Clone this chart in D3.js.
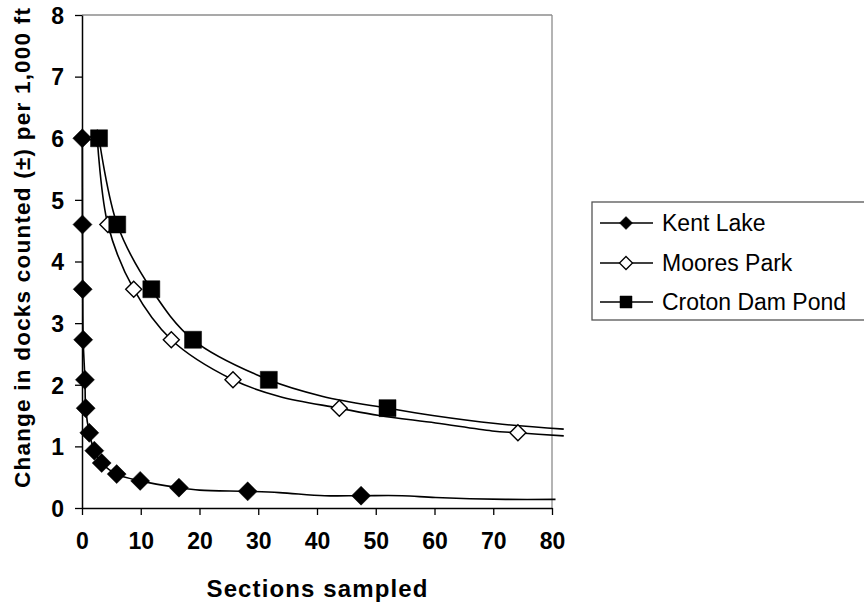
<!DOCTYPE html>
<html>
<head>
<meta charset="utf-8">
<script src="https://cdn.jsdelivr.net/npm/d3@7"></script>
<style>
body { margin: 0; background: #fff; }
svg { display: block; font-family: "Liberation Sans", Arial, sans-serif; }
</style>
</head>
<body>
<div id="chart"></div>
<script>

// marker points per series
var kentX = [0.05, 0.08, 0.12, 0.2, 0.5, 0.63, 1.24, 2.1, 3.35, 5.9, 9.9, 16.5, 28.2, 47.5];
var kentY = [6, 4.6, 3.55, 2.73, 2.08, 1.62, 1.22, 0.93, 0.73, 0.55, 0.44, 0.33, 0.27, 0.2];
var mooresX = [2.6, 4.4, 8.8, 15.2, 25.7, 43.8, 74.2];
var mooresY = [6, 4.6, 3.55, 2.73, 2.08, 1.62, 1.22];
var crotonX = [2.9, 6.0, 11.8, 18.9, 31.8, 52.0];
var crotonY = [6, 4.6, 3.55, 2.73, 2.08, 1.62];

// smoothed lines (more points than markers)
var kentLineX = [0.05, 0.08, 0.12, 0.2, 0.5, 0.63, 1.24, 2.1, 3.35, 5.9, 9.9, 16.5, 20, 28.2, 33.6, 41.3, 47.5, 54.5, 60.2, 72.1, 80.6];
var kentLineY = [6, 4.6, 3.55, 2.73, 2.08, 1.62, 1.22, 0.93, 0.73, 0.55, 0.44, 0.33, 0.29, 0.27, 0.25, 0.2, 0.2, 0.2, 0.17, 0.14, 0.14];
var mooresLineX = [2.6, 4.4, 8.8, 15.2, 25.7, 33.6, 43.8, 50.6, 60.2, 69.8, 74.2, 82];
var mooresLineY = [6, 4.6, 3.55, 2.73, 2.08, 1.81, 1.62, 1.5, 1.38, 1.25, 1.22, 1.17];
var crotonLineX = [2.9, 6.0, 11.8, 18.9, 31.8, 41.0, 52.0, 59.7, 70.4, 82];
var crotonLineY = [6, 4.6, 3.55, 2.73, 2.08, 1.81, 1.62, 1.5, 1.37, 1.28];

var seriesNames = ["Kent Lake", "Moores Park", "Croton Dam Pond"];
var xTicks = [0, 10, 20, 30, 40, 50, 60, 70, 80];
var yTicks = [0, 1, 2, 3, 4, 5, 6, 7, 8];

var width = 864, height = 607;
var margin = {top: 15, left: 82, right: 312, bottom: 99};

var x = d3.scaleLinear().domain([0, 80]).range([margin.left, width - margin.right]);
var y = d3.scaleLinear().domain([0, 8]).range([height - margin.bottom, margin.top]);

var svg = d3.select("#chart").append("svg")
	.attr("width", width)
	.attr("height", height);

function zip(xs, ys) {
	return xs.map(function(d, i) { return [d, ys[i]]; });
}

var series = [
	{name: seriesNames[0], pts: zip(kentX, kentY), line: zip(kentLineX, kentLineY), shape: "diamond", fill: "#000"},
	{name: seriesNames[1], pts: zip(mooresX, mooresY), line: zip(mooresLineX, mooresLineY), shape: "diamond", fill: "#fff"},
	{name: seriesNames[2], pts: zip(crotonX, crotonY), line: zip(crotonLineX, crotonLineY), shape: "square", fill: "#000"}
];

// plot frame: grey top / right
svg.append("line")
	.attr("x1", x(0)).attr("x2", x(80))
	.attr("y1", y(8)).attr("y2", y(8))
	.attr("stroke", "#8c8c8c").attr("stroke-width", 1.3);
svg.append("line")
	.attr("x1", x(80)).attr("x2", x(80))
	.attr("y1", y(8)).attr("y2", y(0))
	.attr("stroke", "#8c8c8c").attr("stroke-width", 1.3);

// axes
var yAxis = svg.append("g")
	.attr("transform", "translate(" + x(0) + ",0)")
	.call(d3.axisLeft(y).tickValues(yTicks).tickSize(7).tickPadding(11).tickSizeOuter(0));
var xAxis = svg.append("g")
	.attr("transform", "translate(0," + y(0) + ")")
	.call(d3.axisBottom(x).tickValues(xTicks).tickSize(7).tickPadding(22).tickSizeOuter(0));

[xAxis, yAxis].forEach(function(a) {
	a.select(".domain").attr("stroke", "#000").attr("stroke-width", 1.5);
	a.selectAll(".tick line").attr("stroke", "#000").attr("stroke-width", 1.3);
	a.selectAll(".tick text")
		.attr("fill", "#000")
		.style("font-family", "'Liberation Sans', Arial, sans-serif")
		.style("font-size", "23px")
		.style("font-weight", "bold");
});
yAxis.selectAll(".tick text").attr("dy", "0.36em");
xAxis.selectAll(".tick text").attr("dy", "0.5em");

// lines
var lineGen = d3.line()
	.x(function(d) { return x(d[0]); })
	.y(function(d) { return y(d[1]); })
	.curve(d3.curveCatmullRom.alpha(0.5));

svg.append("g").attr("class", "lines")
	.selectAll("path")
	.data(series)
	.enter().append("path")
	.attr("d", function(d) { return lineGen(d.line); })
	.attr("fill", "none")
	.attr("stroke", "#000")
	.attr("stroke-width", 1.6);

function markerPath(shape, r) {
	if (shape == "square") {
		return "M" + (-r) + "," + (-r) + "H" + r + "V" + r + "H" + (-r) + "Z";
	}
	return "M0," + (-r) + "L" + r + ",0L0," + r + "L" + (-r) + ",0Z";
}

series.forEach(function(s) {
	svg.append("g").attr("class", "markers")
		.selectAll("path")
		.data(s.pts)
		.enter().append("path")
		.attr("transform", function(d) { return "translate(" + x(d[0]) + "," + y(d[1]) + ")"; })
		.attr("d", markerPath(s.shape, s.shape == "square" ? 8.5 : (s.fill == "#fff" ? 8 : 9.5)))
		.attr("fill", s.fill)
		.attr("stroke", "#000")
		.attr("stroke-width", s.fill == "#fff" ? 1.4 : 0.5);
});

// axis titles
svg.append("text")
	.attr("x", (x(0) + x(80)) / 2)
	.attr("y", 597)
	.attr("text-anchor", "middle")
	.attr("textLength", 221)
	.attr("lengthAdjust", "spacing")
	.style("font-size", "24px")
	.style("font-weight", "bold")
	.text("Sections sampled");

svg.append("text")
	.attr("transform", "translate(30,248) rotate(-90)")
	.attr("text-anchor", "middle")
	.attr("textLength", 480)
	.attr("lengthAdjust", "spacing")
	.style("font-size", "22.5px")
	.style("font-weight", "bold")
	.text("Change in docks counted (\u00b1) per 1,000 ft");

// legend
var legend = svg.append("g").attr("class", "legend");
legend.append("rect")
	.attr("x", 592).attr("y", 202)
	.attr("width", 300).attr("height", 118)
	.attr("fill", "#fff")
	.attr("stroke", "#555")
	.attr("stroke-width", 1.3);

var rowY = [223, 263, 302];
series.forEach(function(s, i) {
	var g = legend.append("g").attr("transform", "translate(0," + rowY[i] + ")");
	g.append("line")
		.attr("x1", 600).attr("x2", 653)
		.attr("stroke", "#000").attr("stroke-width", 1.6);
	g.append("path")
		.attr("transform", "translate(626,0)")
		.attr("d", markerPath(s.shape, s.shape == "square" ? 6 : 6.5))
		.attr("fill", s.fill)
		.attr("stroke", "#000")
		.attr("stroke-width", s.fill == "#fff" ? 1.3 : 0.5);
	g.append("text")
		.attr("x", 662)
		.attr("dy", "0.36em")
		.style("font-size", "23px")
		.text(s.name);
});

</script>
</body>
</html>
